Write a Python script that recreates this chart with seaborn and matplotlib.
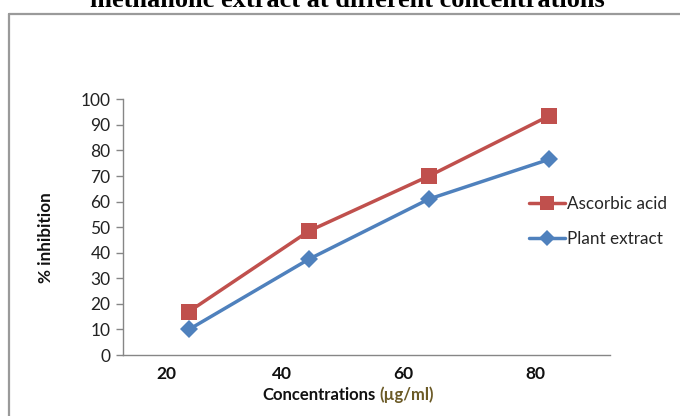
import matplotlib
matplotlib.use("Agg")
import matplotlib.pyplot as plt
from matplotlib.lines import Line2D
import seaborn as sns
import pandas as pd

# Data
concentrations = ["20", "40", "60", "80"]
ascorbic_acid = [17.0, 48.5, 70.0, 93.5]
plant_extract = [10.0, 37.5, 61.0, 76.5]
series_names = ["Ascorbic acid", "Plant extract"]
y_ticks = [0, 10, 20, 30, 40, 50, 60, 70, 80, 90, 100]

rows = []
for i, c in enumerate(concentrations):
    rows.append({"pos": i, "conc": c, "val": ascorbic_acid[i], "series": series_names[0]})
for i, c in enumerate(concentrations):
    rows.append({"pos": i, "conc": c, "val": plant_extract[i], "series": series_names[1]})
df = pd.DataFrame(rows)

sns.set_theme(style="white")
plt.rcParams["font.family"] = ["Lato", "DejaVu Sans"]

W, H = 680, 416
fig = plt.figure(figsize=(6.8, 4.16), dpi=100)
ax = fig.add_axes([123 / W, 1 - 355 / H, (610 - 123) / W, (355 - 99.3) / H])

palette = {"Ascorbic acid": "#C0504D", "Plant extract": "#4F81BD"}
markers = {"Ascorbic acid": "s", "Plant extract": "D"}
sns.lineplot(data=df, x="pos", y="val", hue="series", style="series",
             palette=palette, markers=markers, dashes=False, linewidth=2.5,
             markersize=11, markeredgewidth=0, ax=ax, legend=True)
for line in ax.lines:
    if line.get_marker() == "D":
        line.set_markersize(9)

ax.set_xlim(-0.55, 3.508)
ax.set_ylim(0, 100)
ax.set_yticks(y_ticks)
ax.set_yticklabels([str(v) for v in y_ticks], fontsize=12.5, color="#222222")
ax.set_xticks([-0.186, 0.772, 1.783, 2.883])
ax.set_xticklabels(concentrations, fontsize=12.5, fontweight="bold", color="#111111")
ax.tick_params(axis="y", length=5, width=1, color="#868686", pad=4, left=True)
ax.tick_params(axis="x", length=0, pad=8)
for s in ["top", "right"]:
    ax.spines[s].set_visible(False)
for s in ["left", "bottom"]:
    ax.spines[s].set_color("#868686")
    ax.spines[s].set_linewidth(1.0)
ax.set_xlabel("")
ax.set_ylabel("% inhibition", fontsize=12.3, fontweight="bold", color="#111111")
ax.yaxis.set_label_coords(-(123 - 54) / (610 - 123), 0.46)

# Legend
handles, labels = ax.get_legend_handles_labels()
for h in handles:
    if h.get_marker() == "D":
        h.set_markersize(8)
    else:
        h.set_markersize(10)
leg = fig.legend(handles, labels, loc="upper left", bbox_to_anchor=(522 / W, 1 - 189 / H),
                 frameon=False, fontsize=12.3, handlelength=2.1, handletextpad=0.15,
                 labelspacing=1.1, borderaxespad=0)
ax.get_legend().remove()

# X label with two colours
fig.text(376 / W, 1 - 395 / H, "Concentrations", ha="right", va="center",
         fontsize=12, fontweight="bold", color="#111111")
fig.text(379 / W, 1 - 395 / H, "(µg/ml)", ha="left", va="center",
         fontsize=12, fontweight="bold", color="#6b5a26")

# Title (cut at top, as in the reference)
fig.text(347.5 / W, 1 - 7 / H, "methanolic extract at different concentrations",
         ha="center", va="baseline", fontsize=19, fontweight="bold",
         family=["Liberation Serif", "DejaVu Serif"], color="#000000")

# Outer chart border
fig.add_artist(Line2D([8.5 / W, 8.5 / W], [0, 1 - 14 / H], transform=fig.transFigure,
                      color="#9a9a9a", linewidth=1.6))
fig.add_artist(Line2D([8.5 / W, 1.0], [1 - 14 / H, 1 - 14 / H], transform=fig.transFigure,
                      color="#9a9a9a", linewidth=1.6))

fig.savefig("out.png", dpi=100)
